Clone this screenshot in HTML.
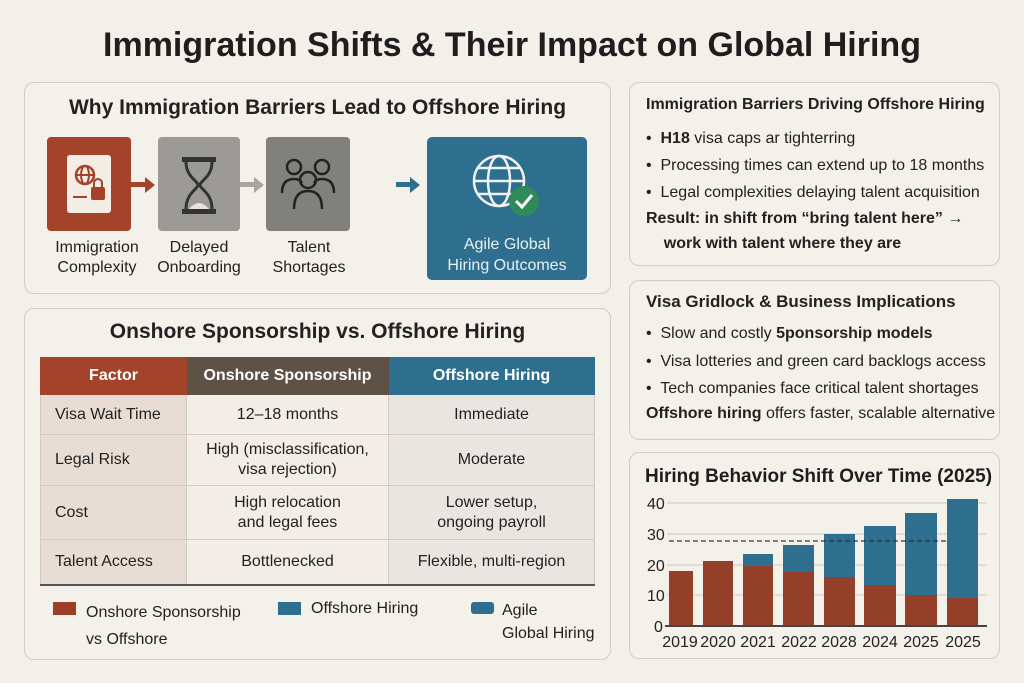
<!DOCTYPE html>
<html><head><meta charset="utf-8"><style>
*{margin:0;padding:0;box-sizing:border-box}
body{width:1024px;height:683px;background:#f3efe9;font-family:"Liberation Sans",sans-serif;color:#222;position:relative;overflow:hidden}
.a{position:absolute}
.panel{position:absolute;border:1.5px solid #d3ccc4;border-radius:10px;background:#f4f0ea}
.t{position:absolute;white-space:nowrap}
.c{text-align:center}
.lbl{font-size:16px;line-height:20px;text-align:center;width:120px}
td{border:1px solid #d3cbc2;font-size:16px;line-height:20px}
</style></head><body>
<div class="t c" style="left:0;width:1024px;top:26px;font-size:34px;font-weight:bold;color:#1e1e1e">Immigration Shifts &amp; Their Impact on Global Hiring</div>

<div class="panel" style="left:24px;top:82px;width:587px;height:212px"></div>
<div class="t c" style="left:24px;width:587px;top:96px;font-size:21px;font-weight:bold">Why Immigration Barriers Lead to Offshore Hiring</div>
<div class="a" style="left:47px;top:137px;width:84px;height:94px;background:#a3432a;border-radius:4px"></div>
<svg class="a" style="left:47px;top:137px" width="84" height="94"><rect x="20" y="18" width="44" height="58" rx="3" fill="#f3ede6"/><circle cx="38" cy="38" r="9" fill="none" stroke="#a3432a" stroke-width="2.5"/><line x1="29" y1="38" x2="47" y2="38" stroke="#a3432a" stroke-width="2"/><ellipse cx="38" cy="38" rx="4" ry="9" fill="none" stroke="#a3432a" stroke-width="2"/><rect x="44" y="50" width="14" height="13" rx="2" fill="#a3432a"/><path d="M47 50v-4a4 4 0 0 1 8 0v4" fill="none" stroke="#a3432a" stroke-width="2"/><line x1="26" y1="60" x2="40" y2="60" stroke="#a3432a" stroke-width="2"/></svg>
<svg class="a" style="left:131px;top:176px" width="28" height="18"><rect x="0" y="6" width="14" height="5" fill="#a3432a"/><polygon points="14,1 24,9 14,17" fill="#a3432a"/></svg>
<div class="a" style="left:158px;top:137px;width:82px;height:94px;background:#9c9a96;border-radius:4px"></div>
<svg class="a" style="left:158px;top:137px" width="82" height="94"><rect x="24" y="20" width="34" height="5" fill="#333"/><rect x="24" y="72" width="34" height="5" fill="#333"/><path d="M28 25 C28 40,40 44,40 48 C40 52,28 56,28 72 M54 25 C54 40,42 44,42 48 C42 52,54 56,54 72" fill="none" stroke="#333" stroke-width="3"/><path d="M31 72 Q41 60 51 72Z" fill="#e8e2da"/></svg>
<svg class="a" style="left:240px;top:176px" width="28" height="18"><rect x="0" y="6" width="14" height="5" fill="#a8a6a2"/><polygon points="14,1 24,9 14,17" fill="#a8a6a2"/></svg>
<div class="a" style="left:266px;top:137px;width:84px;height:94px;background:#80817d;border-radius:4px"></div>
<svg class="a" style="left:266px;top:137px" width="84" height="94"><g fill="none" stroke="#222" stroke-width="2.5"><circle cx="28" cy="30" r="7"/><circle cx="56" cy="30" r="7"/><path d="M16 56 Q16 42 28 42 Q34 42 36 46"/><path d="M68 56 Q68 42 56 42 Q50 42 48 46"/><circle cx="42" cy="43" r="8"/><path d="M28 72 Q28 54 42 54 Q56 54 56 72"/></g></svg>
<svg class="a" style="left:396px;top:176px" width="28" height="18"><rect x="0" y="6" width="14" height="5" fill="#2e6e8e"/><polygon points="14,1 24,9 14,17" fill="#2e6e8e"/></svg>
<div class="a" style="left:427px;top:137px;width:160px;height:143px;background:#2e6e8e;border-radius:5px"></div>
<svg class="a" style="left:427px;top:137px" width="160" height="90"><g fill="none" stroke="#f2f2f2" stroke-width="2.5"><circle cx="72" cy="44" r="25"/><ellipse cx="72" cy="44" rx="11" ry="25"/><line x1="47" y1="44" x2="97" y2="44"/><path d="M51 31h42M51 57h42"/></g><circle cx="97" cy="64" r="15" fill="#2f8a5a"/><path d="M89 64l6 6 10-12" fill="none" stroke="#fff" stroke-width="3"/></svg>
<div class="t lbl" style="left:37px;top:238px">Immigration<br>Complexity</div>
<div class="t lbl" style="left:139px;top:238px">Delayed<br>Onboarding</div>
<div class="t lbl" style="left:249px;top:238px">Talent<br>Shortages</div>
<div class="t c" style="left:427px;width:160px;top:234px;font-size:16px;line-height:21px;color:#eaf0f3">Agile Global<br>Hiring Outcomes</div>

<div class="panel" style="left:24px;top:308px;width:587px;height:352px"></div>
<div class="t c" style="left:24px;width:587px;top:320px;font-size:21px;font-weight:bold">Onshore Sponsorship vs. Offshore Hiring</div>
<table class="a" style="left:40px;top:357px;width:555px;border-collapse:collapse">
<tr style="height:37px;color:#fff;font-weight:bold;text-align:center"><td style="width:146px;background:#a3432a;border-color:#a3432a">Factor</td><td style="width:202px;background:#5e5247;border-color:#5e5247">Onshore Sponsorship</td><td style="background:#2e6e8e;border-color:#2e6e8e">Offshore Hiring</td></tr>
<tr style="height:40px"><td style="background:#e8ddd4;padding-left:14px">Visa Wait Time</td><td class="c" style="background:#f2ede7">12–18 months</td><td class="c" style="background:#e9e6e1">Immediate</td></tr>
<tr style="height:51px"><td style="background:#e8ddd4;padding-left:14px">Legal Risk</td><td class="c" style="background:#f2ede7">High (misclassification,<br>visa rejection)</td><td class="c" style="background:#e9e6e1">Moderate</td></tr>
<tr style="height:54px"><td style="background:#e8ddd4;padding-left:14px">Cost</td><td class="c" style="background:#f2ede7">High relocation<br>and legal fees</td><td class="c" style="background:#e9e6e1">Lower setup,<br>ongoing payroll</td></tr>
<tr style="height:45px;border-bottom:2px solid #555"><td style="background:#e8ddd4;padding-left:14px">Talent Access</td><td class="c" style="background:#f2ede7">Bottlenecked</td><td class="c" style="background:#e9e6e1">Flexible, multi-region</td></tr>
</table>
<div class="a" style="left:53px;top:602px;width:23px;height:13px;background:#9b3f28"></div>
<div class="t" style="left:86px;top:599px;font-size:16px;line-height:27px">Onshore Sponsorship<br>vs Offshore</div>
<div class="a" style="left:278px;top:602px;width:23px;height:13px;background:#2e6e8e"></div>
<div class="t" style="left:311px;top:599px;font-size:16px;line-height:20px">Offshore Hiring</div>
<div class="a" style="left:471px;top:602px;width:23px;height:12px;background:#2e6e8e;border-radius:3px"></div>
<div class="t" style="left:502px;top:599px;font-size:16px;line-height:23px">Agile<br>Global Hiring</div>

<div class="panel" style="left:629px;top:82px;width:371px;height:184px"></div>
<div class="t" style="left:646px;top:96px;font-size:16px;font-weight:bold">Immigration Barriers Driving Offshore Hiring</div>
<div class="t" style="left:646px;top:125px;font-size:16px;line-height:27px">•&nbsp; <b>H18</b> visa caps ar tighterring<br>•&nbsp; Processing times can extend up to 18 months<br>•&nbsp; Legal complexities delaying talent acquisition</div>
<div class="t" style="left:646px;top:206px;font-size:16px;line-height:25px;font-weight:bold">Result: in shift from “bring talent here” →<br>&nbsp;&nbsp;&nbsp;&nbsp;work with talent where they are</div>

<div class="panel" style="left:629px;top:280px;width:371px;height:160px"></div>
<div class="t" style="left:646px;top:292px;font-size:17px;font-weight:bold">Visa Gridlock &amp; Business Implications</div>
<div class="t" style="left:646px;top:320px;font-size:16px;line-height:27.5px">•&nbsp; Slow and costly <b>5ponsorship models</b><br>•&nbsp; Visa lotteries and green card backlogs access<br>•&nbsp; Tech companies face critical talent shortages</div>
<div class="t" style="left:646px;top:405px;font-size:16px"><b>Offshore hiring</b> offers faster, scalable alternative</div>

<div class="panel" style="left:629px;top:452px;width:371px;height:207px"></div>
<div class="t" style="left:645px;top:466px;font-size:19px;font-weight:bold;color:#1e1e1e">Hiring Behavior Shift Over Time (2025)</div>
<svg class="a" style="left:620px;top:450px" width="400" height="230" font-family="Liberation Sans" font-size="16" fill="#222">
<g stroke="#ccc6bf" stroke-width="1"><line x1="47" y1="53" x2="367" y2="53"/><line x1="47" y1="84" x2="367" y2="84"/><line x1="47" y1="115" x2="367" y2="115"/><line x1="47" y1="145" x2="367" y2="145"/></g>
<text x="27" y="59">40</text><text x="27" y="90">30</text><text x="27" y="121">20</text><text x="27" y="151">10</text><text x="34" y="182">0</text>
<g fill="#943f28">
<rect x="49" y="121" width="24" height="55"/><rect x="83" y="111" width="30" height="65"/><rect x="123" y="116" width="30" height="60"/><rect x="163" y="122" width="31" height="54"/><rect x="204" y="127" width="31" height="49"/><rect x="244" y="135" width="32" height="41"/><rect x="285" y="145" width="32" height="31"/><rect x="327" y="148" width="31" height="28"/></g>
<g fill="#2e6e8e">
<rect x="123" y="104" width="30" height="12"/><rect x="163" y="95" width="31" height="27"/><rect x="204" y="84" width="31" height="43"/><rect x="244" y="76" width="32" height="59"/><rect x="285" y="63" width="32" height="82"/><rect x="327" y="49" width="31" height="99"/></g>
<line x1="49" y1="91" x2="328" y2="91" stroke="#333" stroke-dasharray="5,3" stroke-width="1.2"/>
<line x1="45" y1="176" x2="367" y2="176" stroke="#444" stroke-width="2"/>
<g text-anchor="middle"><text x="60" y="197">2019</text><text x="98" y="197">2020</text><text x="138" y="197">2021</text><text x="179" y="197">2022</text><text x="219" y="197">2028</text><text x="260" y="197">2024</text><text x="301" y="197">2025</text><text x="343" y="197">2025</text></g>
</svg>
</body></html>
